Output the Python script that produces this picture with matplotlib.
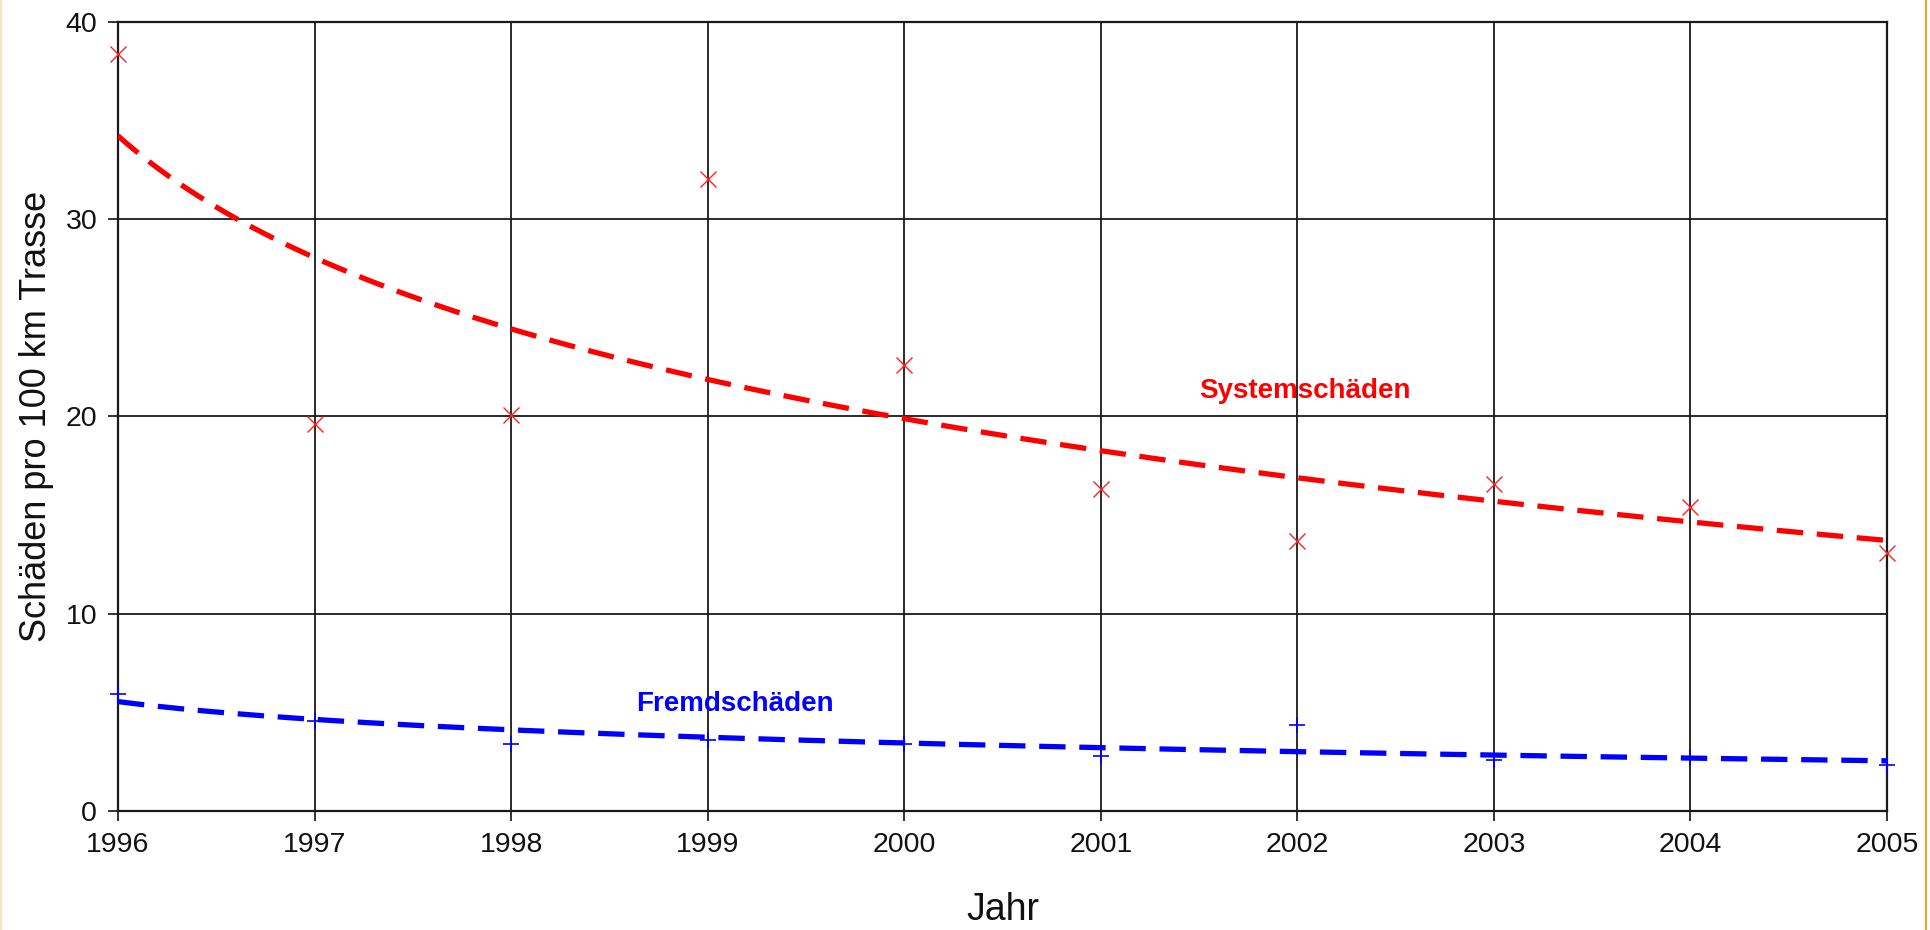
import matplotlib
matplotlib.use("Agg")
import matplotlib.pyplot as plt
from matplotlib.lines import Line2D
import numpy as np

years = [1996, 1997, 1998, 1999, 2000, 2001, 2002, 2003, 2004, 2005]
system_damage = [38.35, 19.6, 20.05, 32.0, 22.6, 16.3, 13.7, 16.55, 15.4, 13.05]
external_damage = [5.95, 4.55, 3.4, 3.6, 3.4, 2.8, 4.35, 2.6, 2.75, 2.35]
y_ticks = [0, 10, 20, 30, 40]

plt.rcParams["font.family"] = ["Liberation Sans", "DejaVu Sans"]


def log_trend(xs, ys, n=400):
    # Excel-style logarithmic trend line, x counted 1..N
    idx = np.arange(1, len(xs) + 1)
    b, a = np.polyfit(np.log(idx), ys, 1)
    t = np.linspace(1, len(xs), n)
    return xs[0] + (t - 1), a + b * np.log(t)


fig = plt.figure(figsize=(19.3, 9.3), dpi=100)
ax = fig.add_axes([118 / 1930, 1 - 811 / 930, 1769 / 1930, 789.5 / 930])

tx, ty = log_trend(years, system_damage)
ax.plot(tx, ty, color="#ff0000", lw=3.8, dashes=(5.0, 2.6), solid_capstyle="butt", zorder=3)
tx, ty = log_trend(years, external_damage)
ax.plot(tx, ty, color="#0000ff", lw=3.8, dashes=(5.0, 2.6), zorder=3)

ax.plot(years, system_damage, ls="none", marker="x", ms=12, mew=1.0, color="#ff2020", zorder=4, clip_on=False)
ax.plot(years, external_damage, ls="none", marker="+", ms=12, mew=1.2, color="#0000ff", zorder=4, clip_on=False)

ax.text(2002.04, 21.3, "Systemschäden", color="#ff0000", fontsize=20, fontweight="bold", ha="center", va="center")
ax.text(1999.14, 5.4, "Fremdschäden", color="#0000ff", fontsize=20, fontweight="bold", ha="center", va="center")

ax.set_xlim(1996, 2005)
ax.set_ylim(0, 40)
ax.set_xticks(years)
ax.set_yticks(y_ticks)
ax.tick_params(axis="both", direction="out", length=7, width=1.2, color="#111111", labelsize=20.5, pad=8, labelcolor="#111111")
ax.grid(True, color="#1a1a1a", lw=1.3)
ax.set_axisbelow(True)
for s in ax.spines.values():
    s.set_color("#1a1a1a")
    s.set_linewidth(1.6)

ax.set_xlabel("Jahr", fontsize=27, color="#111111")
ax.xaxis.set_label_coords(0.5, -0.102)
ax.set_ylabel("Schäden pro 100 km Trasse", fontsize=26, color="#111111", va="center")
ax.yaxis.set_label_coords(-0.0458, 0.5)

# thin orange frame lines at the picture edges
fig.add_artist(Line2D([1925.5 / 1930, 1925.5 / 1930], [0, 1], color="#f5a623", lw=1.5))
fig.add_artist(Line2D([0.5 / 1930, 0.5 / 1930], [0, 1], color="#fde3c0", lw=1.5))

fig.savefig("out.png", dpi=100, facecolor="white")
